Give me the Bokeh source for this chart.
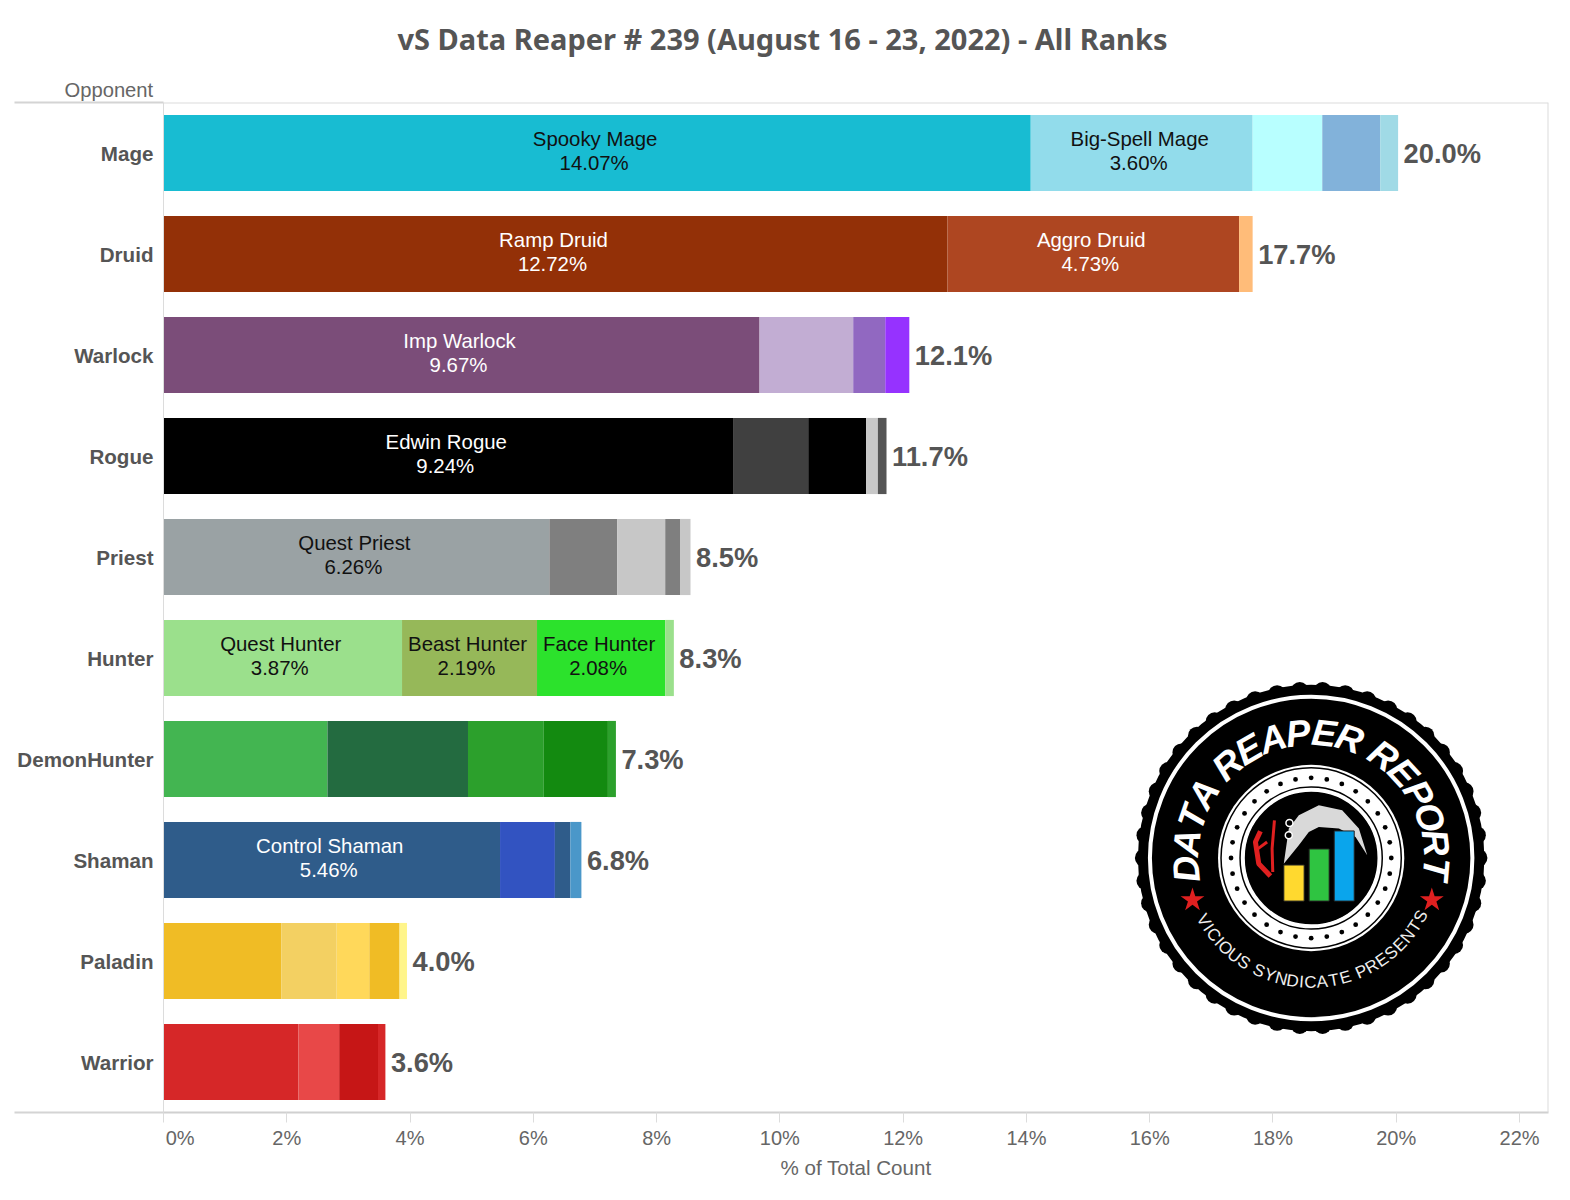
import math
from bokeh.plotting import figure
from bokeh.embed import file_html
from bokeh.resources import INLINE
from bokeh.core.properties import value
from bokeh.models import ColumnDataSource, Range1d, FixedTicker, Span, Title

TITLE = "vS Data Reaper # 239 (August 16 - 23, 2022) - All Ranks"
classes = ["Mage", "Druid", "Warlock", "Rogue", "Priest", "Hunter",
           "DemonHunter", "Shaman", "Paladin", "Warrior"]
total_labels = ["20.0%", "17.7%", "12.1%", "11.7%", "8.5%", "8.3%", "7.3%", "6.8%", "4.0%", "3.6%"]
tick_values = list(range(0, 24, 2))

mage = [14.07, 3.60, 1.13, 0.94, 0.29]
druid = [12.72, 4.73, 0.22]
warlock = [9.67, 1.52, 0.52, 0.39]
rogue = [9.24, 1.22, 0.94, 0.19, 0.14]
priest = [6.26, 1.10, 0.78, 0.24, 0.17]
hunter = [3.87, 2.19, 2.08, 0.14]
demonhunter = [2.66, 2.28, 1.23, 1.04, 0.13]
shaman = [5.46, 0.89, 0.25, 0.18]
paladin = [1.91, 0.90, 0.53, 0.49, 0.12]
warrior = [2.19, 0.66, 0.63, 0.12]
series = [mage, druid, warlock, rogue, priest, hunter, demonhunter, shaman, paladin, warrior]

mage_names = ["Spooky Mage", "Big-Spell Mage", "", "", ""]
druid_names = ["Ramp Druid", "Aggro Druid", ""]
warlock_names = ["Imp Warlock", "", "", ""]
rogue_names = ["Edwin Rogue", "", "", "", ""]
priest_names = ["Quest Priest", "", "", "", ""]
hunter_names = ["Quest Hunter", "Beast Hunter", "Face Hunter", ""]
demonhunter_names = ["", "", "", "", ""]
shaman_names = ["Control Shaman", "", "", ""]
paladin_names = ["", "", "", "", ""]
warrior_names = ["", "", "", ""]
names = [mage_names, druid_names, warlock_names, rogue_names, priest_names, hunter_names,
         demonhunter_names, shaman_names, paladin_names, warrior_names]

palettes = [
    ["#18BCD2", "#92DCEB", "#B8FFFF", "#82B2DA", "#A0DAE6"],
    ["#933007", "#AE4621", "#FFBC79"],
    ["#7B4D79", "#C2ADD3", "#9168C1", "#9632FF"],
    ["#000000", "#404040", "#000000", "#C8C8C8", "#555555"],
    ["#9AA2A4", "#7F7F7F", "#C7C7C7", "#7F7F7F", "#C7C7C7"],
    ["#9BE08C", "#96B859", "#2CE22C", "#9BE08C"],
    ["#43B551", "#236B40", "#2CA02C", "#138A10", "#2CA02C"],
    ["#2F5C8A", "#3253C1", "#2F5C8A", "#4A97C9"],
    ["#F0BC25", "#F3D062", "#FFD85A", "#F0BC25", "#FFF58A"],
    ["#D62728", "#E84848", "#C61616", "#D62728"],
]
label_colors = ["#111111", "#ffffff", "#ffffff", "#ffffff", "#111111",
                "#111111", "#ffffff", "#ffffff", "#111111", "#111111"]

FONT = "Liberation Sans"
GREY = "#666666"
DARK = "#555555"
LINE = "#dcdcdc"

p = figure(width=1564, height=1194, frame_width=1385, frame_height=1010,
           output_backend="svg", toolbar_location=None,
           y_range=Range1d(len(classes) + 0.5, 0.5),
           x_range=Range1d(0, 22.47),
           min_border_left=163, min_border_right=16, min_border_bottom=82, min_border_top=102,
           background_fill_color="white", border_fill_color="white")
p.extra_x_ranges["px"] = Range1d(163, 1546)
p.extra_y_ranges["px"] = Range1d(1110, 102)

p.title = Title(text=TITLE, align="left", offset=234, text_font="Noto Sans", text_font_size="29px",
                text_font_style="bold", text_color=DARK, standoff=33)
p.add_layout(Title(text="Opponent", align="left", offset=-99, text_font=FONT, text_font_size="20.2px",
                   text_font_style="normal", text_color=GREY, standoff=4), "above")

p.grid.visible = False
p.outline_line_color = None

ax = p.xaxis[0]
ax.ticker = FixedTicker(ticks=tick_values)
ax.major_label_overrides = {t: ("\u00a0" * 6 + "0%" if t == 0 else f"{t}%") for t in tick_values}
ax.major_label_text_font = FONT
ax.major_label_text_font_size = "20px"
ax.major_label_text_color = GREY
ax.major_label_standoff = 4
ax.major_tick_in = 0
ax.major_tick_out = 10
ax.major_tick_line_color = LINE
ax.minor_tick_line_color = None
ax.axis_line_color = "#d0d0d0"
ax.axis_line_width = 2
ax.axis_label = "% of Total Count"
ax.axis_label_text_font = FONT
ax.axis_label_text_font_size = "20.6px"
ax.axis_label_text_font_style = "normal"
ax.axis_label_text_color = GREY
ax.axis_label_standoff = 4

ay = p.yaxis[0]
# the two minor ticks are the header and footer rules that run left of the plot area;
# the negative standoff brings the class labels back over them, next to the plot
ay.ticker = FixedTicker(ticks=list(range(1, len(classes) + 1)), minor_ticks=[0.5, len(classes) + 0.5])
ay.major_label_overrides = {i + 1: c for i, c in enumerate(classes)}
ay.major_label_text_font = FONT
ay.major_label_text_font_size = "20.6px"
ay.major_label_text_font_style = "bold"
ay.major_label_text_color = DARK
ay.major_label_standoff = -139
ay.major_tick_line_color = None
ay.major_tick_out = 0
ay.major_tick_in = 0
ay.minor_tick_out = 149
ay.minor_tick_in = 0
ay.minor_tick_line_color = "#d4d4d4"
ay.minor_tick_line_width = 2
ay.axis_line_color = LINE
ay.axis_line_width = 1

# frame lines
p.add_layout(Span(location=22.47, dimension="height", line_color=LINE, line_width=2))
p.add_layout(Span(location=102, dimension="width", line_color=LINE, line_width=2, y_range_name="px"))

# bars
for pos, (vals, nms, cols, lab_col, total) in enumerate(zip(series, names, palettes, label_colors, total_labels), start=1):
    lefts, rights, s = [], [], 0.0
    for v in vals:
        lefts.append(s)
        s += v
        rights.append(s)
    src = ColumnDataSource(dict(y=[pos] * len(vals), left=lefts, right=rights, color=cols))
    p.hbar(y="y", left="left", right="right", height=0.754, fill_color="color", line_color=None, source=src)
    lab = [(n, (l + r) / 2, v) for n, l, r, v in zip(nms, lefts, rights, vals) if n]
    if lab:
        lsrc = ColumnDataSource(dict(y=[pos] * len(lab), x=[a[1] for a in lab],
                                     name=[a[0] for a in lab],
                                     pct=[f"{a[2]:.2f}%" for a in lab]))
        for col, off, xoff in (("name", -14, -2), ("pct", 10, -3)):
            p.text(x="x", y="y", text=col, source=lsrc, text_font=value(FONT), text_font_size="20.4px",
                   text_color=lab_col, text_align="center", text_baseline="middle",
                   x_offset=xoff, y_offset=off)
    tsrc = ColumnDataSource(dict(y=[pos], x=[s], t=[total]))
    p.text(x="x", y="y", text="t", source=tsrc, text_font=value(FONT), text_font_size="27.3px",
           text_font_style="bold", text_color=DARK, text_align="left", text_baseline="middle",
           x_offset=5.5, y_offset=0)

# ----- logo, drawn in page-pixel coordinates -----
CX, CY = 1309, 856
R = dict(x_range_name="px", y_range_name="px")

def pol(r, deg):
    a = math.radians(deg)
    return CX + r * math.cos(a), CY - r * math.sin(a)

scal = [pol(167, i * 360 / 46) for i in range(46)]
p.circle([a for a, _ in scal], [b for _, b in scal], radius=9, fill_color="black", line_color=None, **R)
p.circle([CX], [CY], radius=173, fill_color="black", line_color=None, **R)
p.circle([CX], [CY], radius=161, fill_color=None, line_color="white", line_width=4, **R)
p.circle([CX], [CY], radius=93, fill_color="white", line_color=None, **R)
p.circle([CX], [CY], radius=90, fill_color=None, line_color="black", line_width=1.5, **R)
dots = [pol(80, i * 360 / 32) for i in range(32)]
p.circle([a for a, _ in dots], [b for _, b in dots], radius=2.4, fill_color="black", line_color=None, **R)
p.circle([CX], [CY], radius=71, fill_color=None, line_color="black", line_width=1.5, **R)
p.circle([CX], [CY], radius=67, fill_color="black", line_color="white", line_width=1.5, **R)

# scythe
zx = lambda v: 1120 + v / 3
zy = lambda v: 670 + v / 3
blade = [(485, 575), (500, 470), (530, 430), (590, 400), (660, 415), (710, 470), (735, 550),
         (700, 495), (650, 470), (590, 465), (560, 480), (530, 520)]
p.patch([zx(a) for a, _ in blade], [zy(b) for _, b in blade], fill_color="#D9D9D9", line_color=None, **R)
p.circle([zx(502), zx(500)], [zy(453), zy(490)], radius=3.5, fill_color="black", line_color="white", line_width=1.5, **R)
p.line([zx(415), zx(400), zx(410), zx(445)], [zy(478), zy(510), zy(575), zy(612)], line_color="#E02020", line_width=5, **R)
p.line([zx(457), zx(450), zx(452)], [zy(445), zy(530), zy(600)], line_color="#E02020", line_width=3, **R)
p.line([zx(408), zx(435)], [zy(530), zy(510)], line_color="#E02020", line_width=3, **R)

# logo bars
p.quad(left=[1281.7, 1307, 1332], right=[1302, 1327, 1352], top=[863, 847, 829], bottom=[899, 899, 899],
       fill_color=["#FFD92F", "#2FC441", "#0AA5EC"], line_color="#222222", line_width=1, **R)
p.scatter([1190.5, 1429.5], [898, 898], marker="star", size=25, fill_color="#E02020", line_color=None, **R)


def arc_text(txt, a0, a1, radius, rot, font, size, style, color):
    widths = {" ": 0.45, "I": 0.5}
    weights = [widths.get(c, 1.0) for c in txt]
    total = sum(weights) - (weights[0] + weights[-1]) / 2
    xs, ys, ang, ch = [], [], [], []
    run = 0.0
    for i, c in enumerate(txt):
        if i:
            run += (weights[i - 1] + weights[i]) / 2
        th = a0 + (a1 - a0) * run / total
        x, y = pol(radius, th)
        if c != " ":
            xs.append(x); ys.append(y); ang.append(math.radians(th - rot)); ch.append(c)
    p.text(xs, ys, text=ch, angle=ang, text_font=value(font), text_font_size=size, text_font_style=style,
           text_color=color, text_align="center", text_baseline="middle", **R)


arc_text("DATA REAPER REPORT", 185, -5, 125, 90, FONT, "37px", "bold italic", "white")
arc_text("VICIOUS SYNDICATE PRESENTS", 210, 332, 124, 270, FONT, "17px", "normal", "#eeeeee")

open("out.html", "w").write(file_html(p, INLINE))
